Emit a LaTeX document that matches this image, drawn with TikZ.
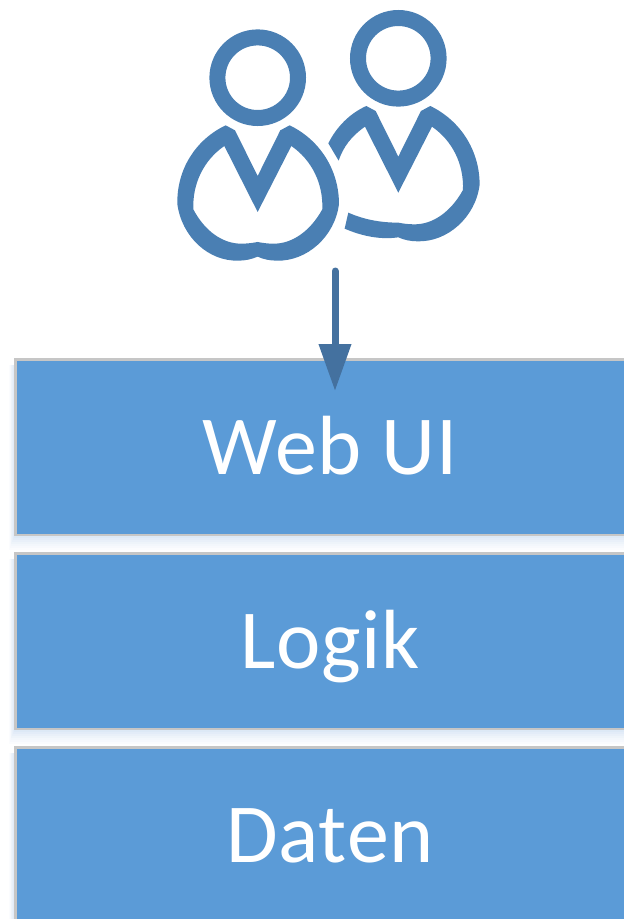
\documentclass[tikz,border=0pt]{standalone}
\usepackage{fontspec}
\setmainfont{Carlito}
\newfontfamily\boxfont[LetterSpace=1.0]{Carlito}
\usetikzlibrary{arrows.meta}
\definecolor{iconblue}{HTML}{4A7FB3}
\definecolor{arrowblue}{HTML}{44719F}
\definecolor{boxblue}{HTML}{5B9BD7}
\definecolor{boxline}{HTML}{C6C6C6}
\definecolor{shadowblue}{HTML}{7BA7DC}
\tikzset{
  layerbox/.style={draw=boxline,line width=2.6pt,fill=boxblue,text=white,minimum width=629pt,
    minimum height=175.5pt,inner sep=0pt,text height=54pt,text depth=0pt,
    font=\boxfont\fontsize{84pt}{84pt}\selectfont},
  headring/.style={draw=iconblue,line width=16pt},
  bodyshape/.style={fill=iconblue,even odd rule,draw=none},
  flowarrow/.style={draw=arrowblue,line width=7pt,line cap=round,
    -{Triangle[length=47pt,width=31pt,color=arrowblue]}},
}
\newcommand{\softshadow}[2]{%
  \foreach \d/\o in {14/.03,12/.03,10/.035,8/.04,6/.045,4/.05,2/.055}{
    \fill[shadowblue,opacity=\o] ({15-.45*\d},{#1+6}) rectangle (660,{#2+\d});
  }}
\begin{document}
\begin{tikzpicture}[x=1pt,y=-1pt]
\useasboundingbox (0,0) rectangle (624,919);
\softshadow{359}{536}
\softshadow{553}{730}
\softshadow{747}{960}
\node[layerbox] (webui) at (330,447.25) {Web UI};
\node[layerbox] (logik) at (330,641.25) {Logik};
\node[layerbox] (daten) at (330,835.25) {Daten};
% left person
\draw[headring] (257.7,77.7) circle[radius=40.3];
\begin{scope}[shift={(160,0)},x=.3333pt,y=-.3333pt]
\fill[bodyshape]
 (197,376) -- (225,391) -- (293,528) -- (361,391) -- (389,376)
 .. controls (480,420) and (537,510) .. (537,612)
 .. controls (525,710) and (440,785) .. (350,782)
 .. controls (330,782) and (310,778) .. (293,770)
 .. controls (275,778) and (255,782) .. (236,782)
 .. controls (145,785) and (65,710) .. (52,612)
 .. controls (50,510) and (105,420) .. (197,376) -- cycle
 (193,438) -- (293,636) -- (394,438)
 .. controls (455,480) and (490,550) .. (487,628)
 .. controls (450,695) and (395,732) .. (340,731)
 .. controls (322,731) and (308,729) .. (293,726)
 .. controls (278,729) and (262,731) .. (245,731)
 .. controls (190,732) and (135,695) .. (100,628)
 .. controls (97,550) and (132,480) .. (193,438) -- cycle;
% right person
\draw[headring,x=1pt,y=-1pt] (238.3,58.3) circle[radius=40.3];
\fill[bodyshape]
 (505,430) .. controls (530,380) and (570,340) .. (619,318)
 -- (647,333) -- (715,470) -- (783,333) -- (811,318)
 .. controls (902,362) and (959,452) .. (959,554)
 .. controls (947,652) and (862,727) .. (772,724)
 .. controls (752,724) and (732,720) .. (715,712)
 .. controls (660,720) and (605,708) .. (554,686)
 -- (565,638)
 .. controls (610,658) and (660,668) .. (715,668)
 .. controls (730,671) and (745,673) .. (762,673)
 .. controls (817,674) and (872,637) .. (909,570)
 .. controls (912,492) and (877,422) .. (816,380)
 -- (715,578) -- (615,380)
 .. controls (575,408) and (550,440) .. (536,482) -- cycle;
\end{scope}
\coordinate (usersfoot) at (335,271);
\coordinate (arrowtip) at (335,391);
\draw[flowarrow] (usersfoot) -- (arrowtip);
\end{tikzpicture}
\end{document}
